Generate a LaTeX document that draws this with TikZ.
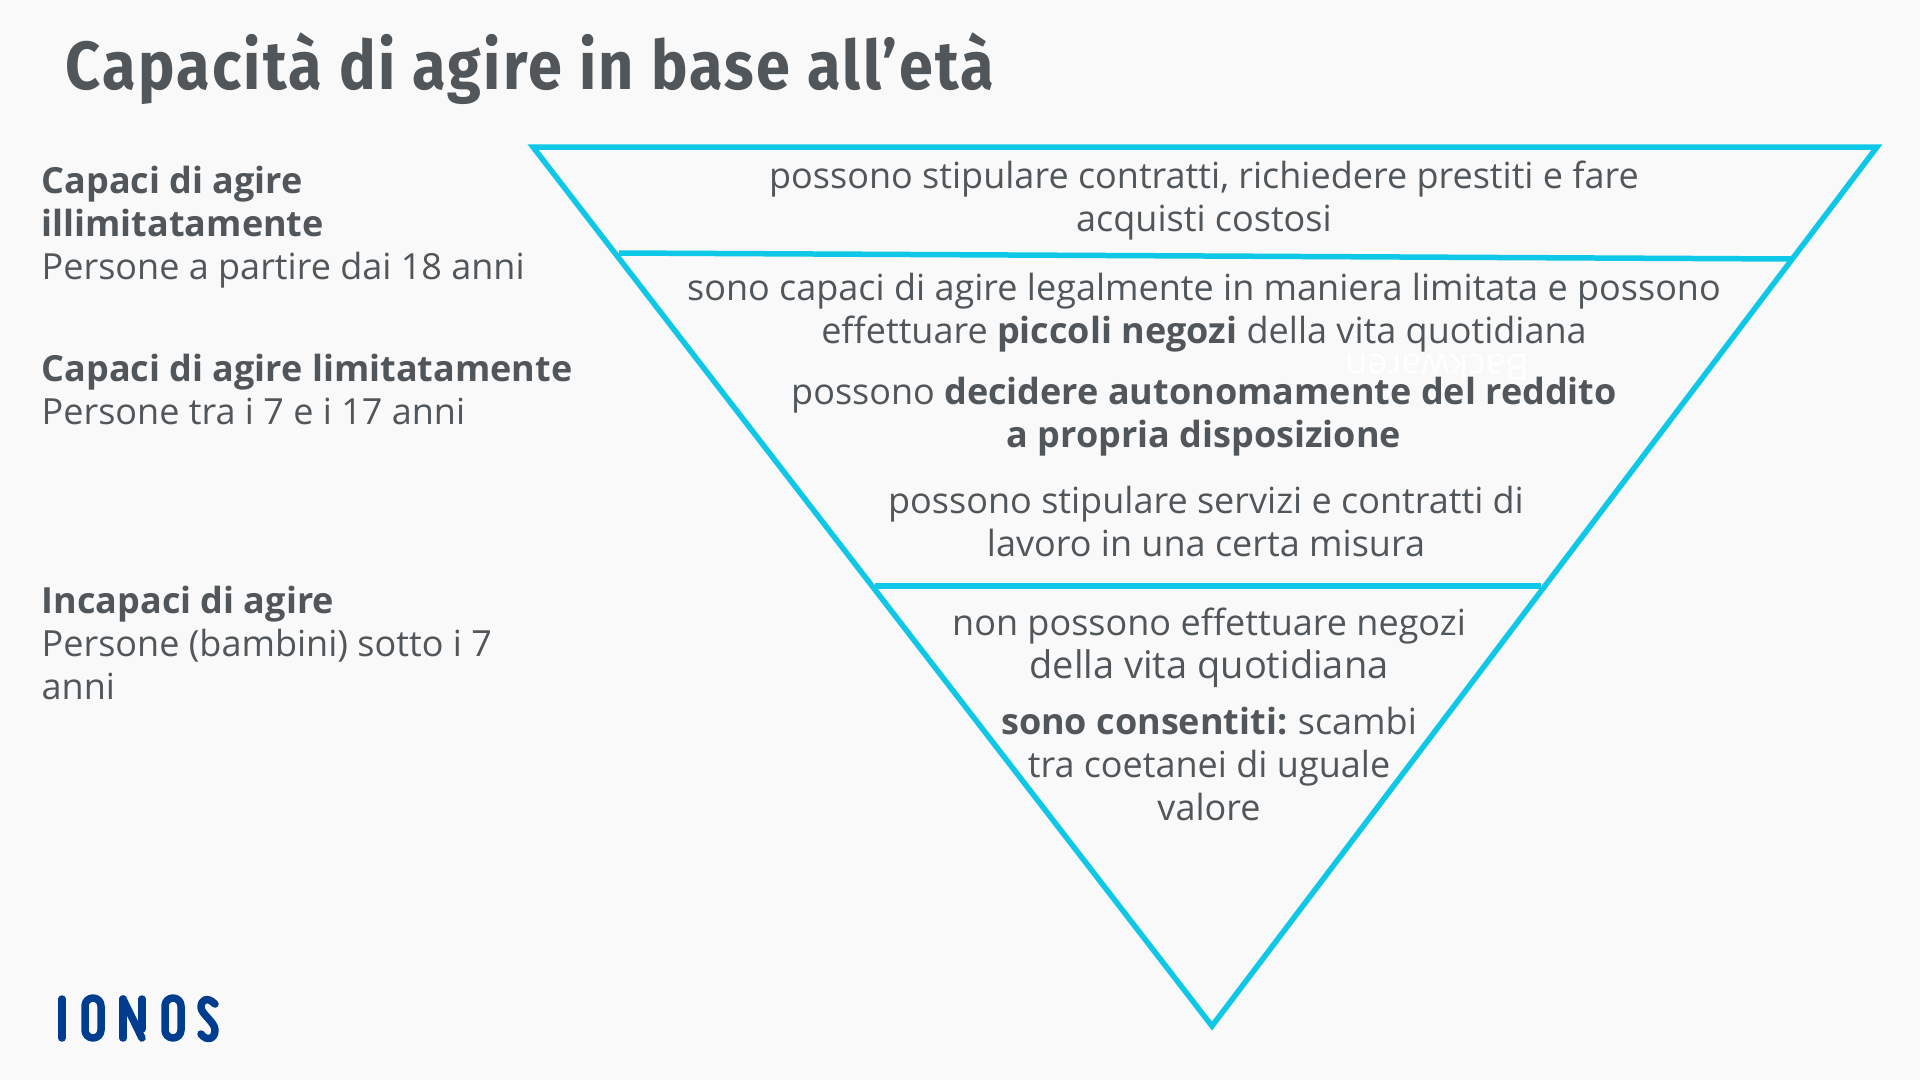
\documentclass[tikz,border=0pt]{standalone}
\usepackage{fontspec}
\setmainfont{Open Sans}
\newfontfamily\titlefont[FakeStretch=0.9,LetterSpace=3.5]{Fira Sans}
\definecolor{bgc}{HTML}{F9F9F9}
\definecolor{txt}{HTML}{50565A}
\definecolor{cyanl}{HTML}{0FC8E8}
\definecolor{logoc}{HTML}{003D8F}
\definecolor{ghost}{HTML}{FFFFFF}
\tikzset{
  body/.style={text=txt,font=\fontsize{36}{43}\selectfont,align=center,inner sep=0pt,anchor=center},
  side/.style={text=txt,font=\fontsize{36}{43}\selectfont,align=left,inner sep=0pt,anchor=west},
  tri/.style={draw=cyanl,line width=5.5pt},
  logo/.style={draw=logoc,line width=7.5pt,line cap=round,line join=round},
}
\begin{document}
\begin{tikzpicture}[x=1pt,y=-1pt]
\fill[bgc] (0,0) rectangle (1920,1080);
\useasboundingbox (0,0) rectangle (1920,1080);
\node[anchor=base west,inner sep=0pt,text=txt,font=\titlefont\bfseries\fontsize{68}{70}\selectfont] (title) at (65,89) {Capacità di agire in base all’età};
\coordinate (tl) at (533,147);
\coordinate (tr) at (1877,147);
\coordinate (ap) at (1212,1026);
\coordinate (al) at (619,253);
\coordinate (ar) at (1792,259);
\coordinate (bl) at (875,586);
\coordinate (br) at (1541,586);
\draw[tri,line join=miter] (tl) -- (tr) -- (ap) -- cycle;
\draw[tri] (al) -- (ar);
\draw[tri] (bl) -- (br);
\node[body,text=ghost,rotate=180,font=\fontsize{36}{36}\selectfont] (g) at (1437,368) {Backwaren};
\node[side] (s1) at (41.5,227) {\textbf{Capaci di agire}\\\textbf{illimitatamente}\\Persone a partire dai 18 anni};
\node[side] (s2) at (41.5,389) {\textbf{Capaci di agire limitatamente}\\Persone tra i 7 e i 17 anni};
\node[side] (s3) at (41.5,643) {\textbf{Incapaci di agire}\\Persone (bambini) sotto i 7\\anni};
\node[body] (b1) at (1204,201) {possono stipulare contratti, richiedere prestiti e fare\\acquisti costosi};
\node[body] (b2) at (1204,313) {sono capaci di agire legalmente in maniera limitata e possono\\effettuare \textbf{piccoli negozi} della vita quotidiana};
\node[body] (b3) at (1204,417) {possono \textbf{decidere autonomamente del reddito}\\\textbf{a propria disposizione}};
\node[body] (b4) at (1206,521) {possono stipulare servizi e contratti di\\lavoro in una certa misura};
\node[body] (b5) at (1209,648) {non possono effettuare negozi\\{\fontsize{38}{43}\selectfont della vita quotidiana}};
\node[body] (b6) at (1209,764) {\textbf{sono consentiti:}\hspace{-2pt} scambi\\tra coetanei di uguale\\valore};
% logo
\draw[logo] (62,999) -- (62,1038);
\draw[logo] (85,1006) arc[start angle=180,end angle=360,radius=8] -- (101,1030) arc[start angle=0,end angle=180,radius=8] -- cycle;
\draw[logo] (123,1038) -- (123,999);
\draw[logo] (142,999) -- (142,1029);
\draw[logo] (123,999) -- (142,1038);
\draw[logo] (165,1006) arc[start angle=180,end angle=360,radius=8] -- (181,1030) arc[start angle=0,end angle=180,radius=8] -- cycle;
\draw[logo] (215,1004) .. controls (207,996) and (201,1000) .. (201,1007) .. controls (201,1014) and (215,1022) .. (215,1030) .. controls (215,1040) and (206,1041) .. (201,1034);
\end{tikzpicture}
\end{document}
